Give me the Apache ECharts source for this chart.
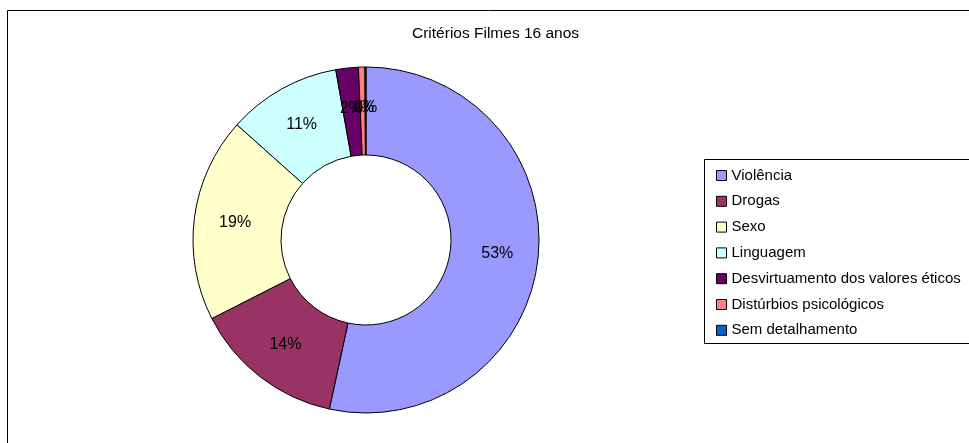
<!DOCTYPE html>
<html>
<head>
<meta charset="utf-8">
<script src="https://cdn.jsdelivr.net/npm/echarts@6/dist/echarts.min.js"></script>
<style>html,body{margin:0;padding:0;background:#fff}#c{width:969px;height:443px}</style>
</head>
<body>
<div id="c"></div>
<script>
const titleText = 'Critérios Filmes 16 anos';
const categories = ['Violência', 'Drogas', 'Sexo', 'Linguagem', 'Desvirtuamento dos valores éticos', 'Distúrbios psicológicos', 'Sem detalhamento'];
const values = [53.4, 14.1, 19.1, 10.6, 2.1, 0.6, 0.1];
const colors = ['#9999FF', '#993366', '#FFFFCC', '#CCFFFF', '#660066', '#FF8080', '#0066CC'];

const FONT = 'Liberation Sans, Arial, sans-serif';
const chart = echarts.init(document.getElementById('c'));
chart.setOption({
  animation: false,
  textStyle: { fontFamily: FONT },
  title: {
    text: titleText,
    left: 412,
    top: 26,
    padding: 0,
    textStyle: { fontSize: 15.5, fontWeight: 'normal', color: '#000', fontFamily: FONT }
  },
  graphic: [
    { type: 'rect', shape: { x: 7.5, y: 10.5, width: 1000, height: 500 }, style: { fill: 'none', stroke: '#000', lineWidth: 1 }, z: -10 },
    { type: 'rect', shape: { x: 704.5, y: 159.5, width: 300, height: 184 }, style: { fill: '#fff', stroke: '#000', lineWidth: 1 }, z: -5 }
  ],
  legend: {
    orient: 'vertical',
    left: 716,
    top: 167,
    padding: 0,
    itemWidth: 10,
    itemHeight: 10,
    itemGap: 8.8,
    icon: 'rect',
    itemStyle: { borderColor: '#000', borderWidth: 1 },
    textStyle: { fontSize: 15, color: '#000', lineHeight: 17, fontFamily: FONT },
    data: categories
  },
  series: [{
    type: 'pie',
    center: [366, 240],
    radius: [85, 173],
    startAngle: 90,
    clockwise: true,
    avoidLabelOverlap: false,
    minShowLabelAngle: 0,
    percentPrecision: 0,
    itemStyle: { borderColor: '#000', borderWidth: 1 },
    emphasis: { disabled: true },
    labelLayout: { hideOverlap: false },
    label: {
      show: true,
      position: 'inside',
      formatter: '{d}%',
      fontSize: 16,
      color: '#000',
      fontFamily: FONT
    },
    labelLine: { show: false },
    data: categories.map((n, i) => ({ name: n, value: values[i], itemStyle: { color: colors[i] } }))
  }]
});
</script>
</body>
</html>
